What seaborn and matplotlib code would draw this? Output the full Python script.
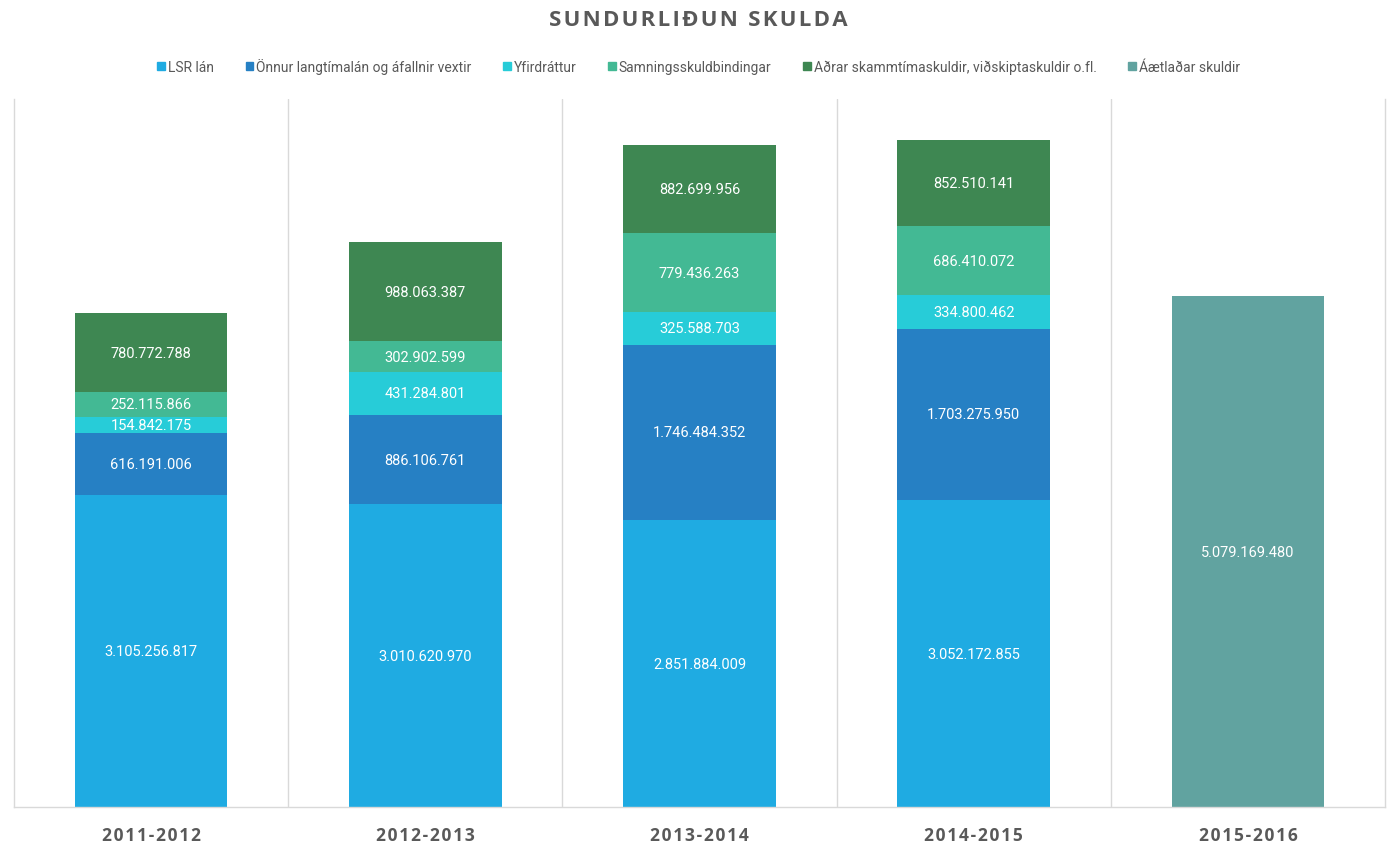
import seaborn as sns
import matplotlib.pyplot as plt
import matplotlib.patches as mpatches
import pandas as pd
import numpy as np

years = ['2011-2012', '2012-2013', '2013-2014', '2014-2015', '2015-2016']
series = ['LSR lán', 'Önnur langtímalán og áfallnir vextir', 'Yfirdráttur',
          'Samningsskuldbindingar', 'Aðrar skammtímaskuldir, viðskiptaskuldir o.fl.',
          'Áætlaðar skuldir']
lsr = [3105256817, 3010620970, 2851884009, 3052172855, 0]
onnur = [616191006, 886106761, 1746484352, 1703275950, 0]
yfirdrattur = [154842175, 431284801, 325588703, 334800462, 0]
samnings = [252115866, 302902599, 779436263, 686410072, 0]
adrar = [780772788, 988063387, 882699956, 852510141, 0]
aaetladar = [0, 0, 0, 0, 5079169480]
colors = ['#1FABE2', '#2680C4', '#27CCD8', '#43B994', '#3E8752', '#61A3A0']

values = [lsr, onnur, yfirdrattur, samnings, adrar, aaetladar]

sns.set_style('white')
plt.rcParams['font.family'] = ['Roboto', 'DejaVu Sans']

fig = plt.figure(figsize=(13.91, 8.45), dpi=100)
ax = fig.add_axes([14 / 1391, 1 - 808 / 845, 1371 / 1391, 708 / 845])

bottom = np.zeros(len(years))
for name, vals, col in zip(series, values, colors):
    df = pd.DataFrame({'year': years, 'val': vals})
    sns.barplot(data=df, x='year', y='val', color=col, bottom=bottom,
                width=0.556, ax=ax, saturation=1, linewidth=0)
    for i, v in enumerate(vals):
        if v > 0:
            lbl = f'{v:,}'.replace(',', '.')
            ax.text(i, bottom[i] + v / 2, lbl, ha='center', va='center',
                    color='white', fontsize=10.5)
    bottom = bottom + np.array(vals)

ax.set_ylim(0, 7.04e9)
ax.set_xlim(-0.5, 4.5)
ax.set_yticks([])
ax.set_xlabel('')
ax.set_ylabel('')
for x in [0.5, 1.5, 2.5, 3.5]:
    ax.axvline(x, color='#D9D9D9', lw=1, zorder=0)
for s in ['left', 'right', 'bottom']:
    ax.spines[s].set_color('#D9D9D9')
    ax.spines[s].set_linewidth(1)
ax.spines['top'].set_visible(False)
ax.tick_params(axis='x', length=0, pad=14)
ax.set_xticks(range(len(years)))
ax.set_xticklabels(['\u200a'.join(list(y)) for y in years],
                   fontsize=12.5, fontweight='bold', color='#595959',
                   family=['Open Sans', 'DejaVu Sans'])

fig.text(0.5 + 3 / 1391, 1 - 20 / 845, '\u200a'.join(list('SUNDURLIÐUN SKULDA')),
         ha='center', va='center', fontsize=16, fontweight='bold', color='#595959',
         family=['Open Sans', 'DejaVu Sans'])

handles = [mpatches.Patch(color=c, label=n) for n, c in zip(series, colors)]
fig.legend(handles=handles, loc='center', bbox_to_anchor=(0.5 + 3 / 1391, 1 - 67 / 845),
           ncol=6, frameon=False, fontsize=10, handlelength=0.55, handleheight=0.55,
           handletextpad=0.2, columnspacing=2.3, labelcolor='#595959')

fig.savefig('out.png', dpi=100)
